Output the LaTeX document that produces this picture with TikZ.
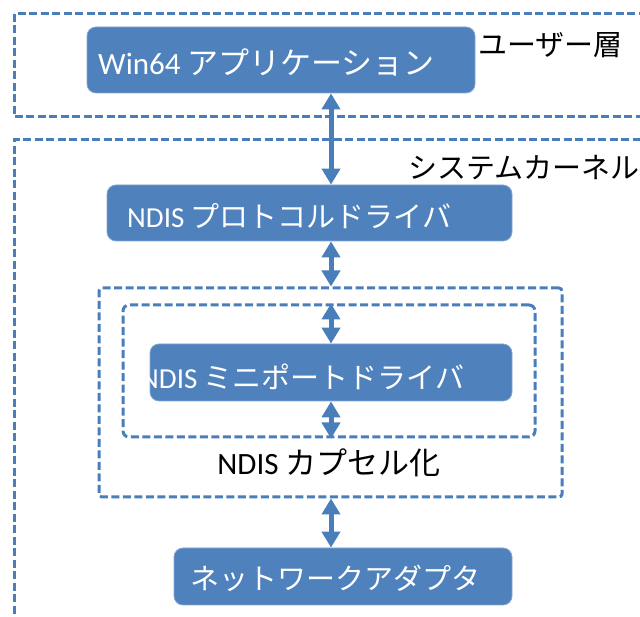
\documentclass[tikz,border=0pt]{standalone}
\usepackage{fontspec}
\setmainfont{Carlito}
\newfontfamily\jpfont{Noto Sans CJK JP}
\usetikzlibrary{arrows.meta}
\definecolor{NDBlue}{HTML}{4F81BD}
\definecolor{NDLine}{HTML}{4A7EBB}
\tikzset{
  layerline/.style={draw=NDLine,line width=3pt,dash pattern=on 8pt off 3.5pt},
  drvbox/.style={fill=NDBlue,draw=NDBlue!70!white,line width=0.8pt,rounded corners=9pt,inner sep=0pt},
  drvtext/.style={anchor=west,text=white,inner sep=0pt,font=\fontsize{29}{32}\selectfont},
  lbltext/.style={anchor=west,inner sep=0pt,font=\fontsize{29}{32}\selectfont},
  link/.style={draw=NDLine,line width=5pt,{Triangle[width=18pt,length=16pt]}-{Triangle[width=18pt,length=16pt]}}
}
\begin{document}
\begin{tikzpicture}[x=1pt,y=1pt]
\clip (0,0) rectangle (640,617);
% layers
\draw[layerline] (14,603) rectangle (670,500);
\draw[layerline] (14,-20) rectangle (670,477);
\node[lbltext] (userlbl) at (478,572) {\jpfont ユーザー層};
\node[lbltext] (kernlbl) at (408,449) {\jpfont システムカーネル};
% NDIS encapsulation frames
\node[layerline,rounded corners=3pt,minimum width=463,minimum height=209] (encap) at (330.5,224.5) {};
\node[layerline,rounded corners=6pt,minimum width=412,minimum height=132] (inner) at (329,246) {};
\node[inner sep=0pt,font=\fontsize{31}{34}\selectfont] (encaplbl) at (329,154) {NDIS \jpfont カプセル化};
% driver boxes
\node[drvbox,minimum width=388,minimum height=66] (app) at (281,557) {};
\node[drvtext,font=\fontsize{31}{34}\selectfont] (apptxt) at (98,555) {Win64 \jpfont アプリケーション};
\node[drvbox,minimum width=405,minimum height=56] (proto) at (309.5,404) {};
\node[drvtext] (prototxt) at (127,401) {NDIS \jpfont プロトコルドライバ};
\node[drvbox,minimum width=362,minimum height=57] (mini) at (331,244.5) {};
\node[drvtext] (minitxt) at (140,240) {NDIS \jpfont ミニポートドライバ};
\node[drvbox,minimum width=338,minimum height=57] (adapter) at (343,40.5) {};
\node[drvtext] (adaptxt) at (190,39) {\jpfont ネットワークアダプタ};
% links
\coordinate (axis) at (331,0);
\draw[link] (app.south -| axis) -- (proto.north -| axis);
\draw[link] (proto.south -| axis) -- (encap.north -| axis);
\draw[link] (inner.north -| axis) -- (mini.north -| axis);
\draw[link] (mini.south -| axis) -- (inner.south -| axis);
\draw[link] (encap.south -| axis) -- (adapter.north -| axis);
\end{tikzpicture}
\end{document}
